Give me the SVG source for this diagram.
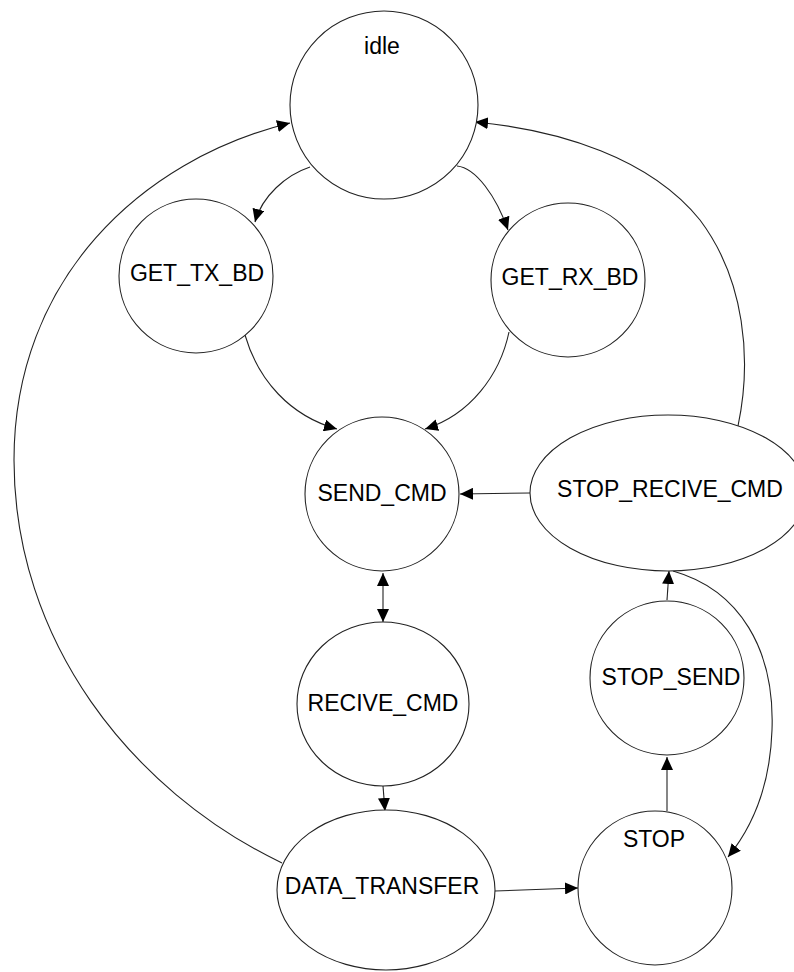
<svg xmlns="http://www.w3.org/2000/svg" width="794" height="972" viewBox="0 0 794 972">
  <style>
    .node { fill: #ffffff; stroke: #222222; stroke-width: 1.1; }
    .label { font-family: "Liberation Sans", Arial, sans-serif; font-size: 23px; fill: #000000; text-anchor: middle; }
    .edge { fill: none; stroke: #222222; stroke-width: 1.1; marker-end: url(#arrow); }
    .both { marker-start: url(#arrow); }
  </style>
  <defs>
    <marker id="arrow" viewBox="0 0 13 12" refX="13" refY="6" markerWidth="13" markerHeight="12" markerUnits="userSpaceOnUse" orient="auto-start-reverse">
      <path d="M0,0 L13,6 L0,12 z" fill="#000000"/>
    </marker>
  </defs>
  <rect width="794" height="972" fill="#ffffff"/>

  <g id="connectors">
    <path class="edge" d="M310,167 C286,175 262,196 255,222"/>
    <path class="edge" d="M457,166 C476,168 496,196 508,230"/>
    <path class="edge" d="M245,335 C258,380 290,416 337,429"/>
    <path class="edge" d="M509,332 C500,375 470,415 425,429"/>
    <path class="edge" d="M530,493 L460,494"/>
    <path class="edge both" d="M383,573 L383,622"/>
    <path class="edge" d="M383,786 L385,811"/>
    <path class="edge" d="M495,891 L578,888"/>
    <path class="edge" d="M667,811 L667,757"/>
    <path class="edge" d="M667,600 L669,571"/>
    <path class="edge" d="M673,571 C740,590 775,650 772,730 C770,790 750,830 728,857"/>
    <path class="edge" d="M738,426 C752,360 745,280 700,220 C650,158 560,130 475,122"/>
    <path class="edge" d="M282,863 C130,790 14,640 14,460 C14,280 140,160 290,123"/>
  </g>

  <g id="idle">
    <circle class="node" cx="384" cy="105" r="94"/>
    <text class="label" x="382" y="54">idle</text>
  </g>
  <g id="get_tx_bd">
    <circle class="node" cx="196" cy="276" r="77"/>
    <text class="label" x="197" y="281">GET_TX_BD</text>
  </g>
  <g id="get_rx_bd">
    <circle class="node" cx="568" cy="280" r="77"/>
    <text class="label" x="570" y="285">GET_RX_BD</text>
  </g>
  <g id="send_cmd">
    <circle class="node" cx="382" cy="494" r="77"/>
    <text class="label" x="382" y="501">SEND_CMD</text>
  </g>
  <g id="stop_recive_cmd">
    <ellipse class="node" cx="668" cy="493" rx="138" ry="78"/>
    <text class="label" x="670" y="497">STOP_RECIVE_CMD</text>
  </g>
  <g id="recive_cmd">
    <ellipse class="node" cx="383" cy="704" rx="86" ry="82"/>
    <text class="label" x="383" y="711">RECIVE_CMD</text>
  </g>
  <g id="stop_send">
    <circle class="node" cx="667" cy="678" r="77"/>
    <text class="label" x="671" y="685">STOP_SEND</text>
  </g>
  <g id="data_transfer">
    <ellipse class="node" cx="386" cy="890" rx="109" ry="80"/>
    <text class="label" x="382" y="894">DATA_TRANSFER</text>
  </g>
  <g id="stop">
    <circle class="node" cx="655" cy="888" r="77"/>
    <text class="label" x="654" y="847">STOP</text>
  </g>
</svg>
